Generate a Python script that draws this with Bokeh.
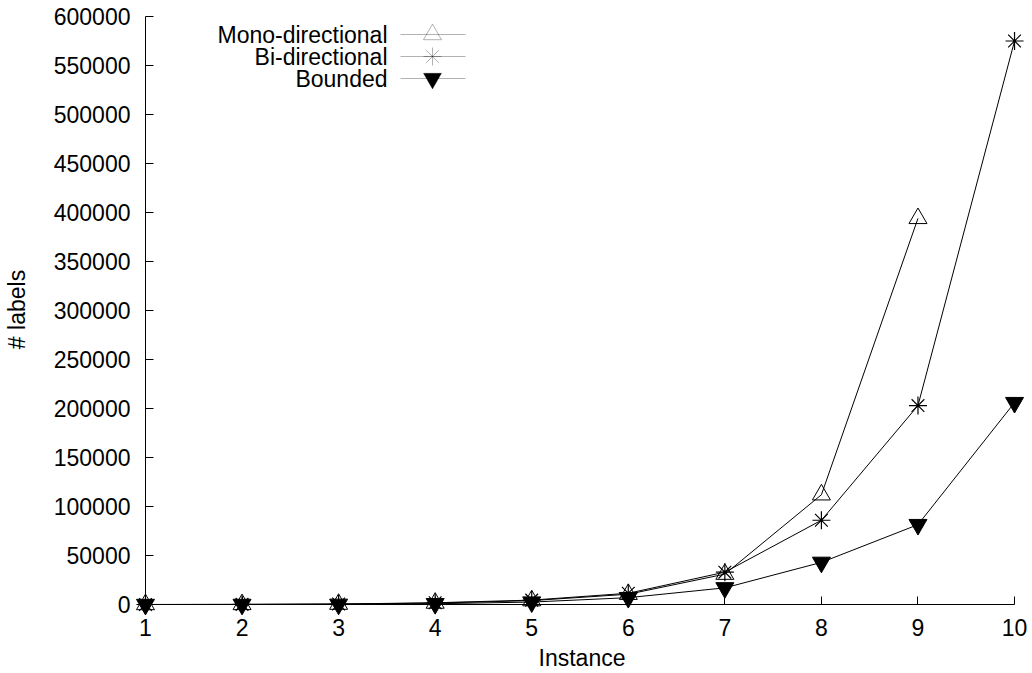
from bokeh.plotting import figure
from bokeh.models import (LinearAxis, FixedTicker, Range1d, Label, PolyAnnotation,
                          BasicTickFormatter, CustomJSTickFormatter, Grid)
from bokeh.embed import file_html
from bokeh.resources import INLINE

# ---- data ----
instances = [1, 2, 3, 4, 5, 6, 7, 8, 9, 10]
mono_x = [1, 2, 3, 4, 5, 6, 7, 8, 9]
mono = [20, 100, 400, 1500, 4000, 10500, 31000, 112000, 394000]
bi = [30, 150, 500, 1800, 4500, 11500, 33000, 86000, 203000, 575000]
bounded = [10, 50, 200, 800, 2500, 7000, 17000, 43000, 81500, 206000]
series_names = ["Mono-directional", "Bi-directional", "Bounded"]
x_ticks = [1, 2, 3, 4, 5, 6, 7, 8, 9, 10]
y_ticks = [0, 50000, 100000, 150000, 200000, 250000, 300000, 350000,
           400000, 450000, 500000, 550000, 600000]

FONT = "Liberation Sans"
FS = "23px"

W, H = 1032, 673
p = figure(width=W, height=H, output_backend="svg", toolbar_location=None,
           x_range=Range1d(0.85534, 10.186), y_range=Range1d(-14261, 616299),
           x_axis_location=None, y_axis_location=None,
           min_border_left=129, min_border_right=0, min_border_top=0,
           min_border_bottom=54, outline_line_color=None,
           background_fill_color="white", border_fill_color="white")
p.center = [r for r in p.center if not isinstance(r, Grid)]


def text_style(ax):
    ax.major_label_text_font = FONT
    ax.major_label_text_font_size = FS
    ax.major_label_text_color = "black"
    ax.axis_label_text_font = FONT
    ax.axis_label_text_font_size = FS
    ax.axis_label_text_font_style = "normal"
    ax.axis_label_text_color = "black"


def no_ticks(ax):
    ax.major_tick_in = 0
    ax.major_tick_out = 0
    ax.minor_tick_in = 0
    ax.minor_tick_out = 0


# edge axes: carry only the texts
ylab = LinearAxis(ticker=FixedTicker(ticks=y_ticks),
                  formatter=BasicTickFormatter(use_scientific=False),
                  axis_label="# labels", axis_line_color=None,
                  major_tick_line_color=None)
no_ticks(ylab)
text_style(ylab)
ylab.major_label_standoff = 1
ylab.axis_label_standoff = 21
p.add_layout(ylab, "left")

xlab = LinearAxis(ticker=FixedTicker(ticks=x_ticks), axis_label="Instance",
                  axis_line_color=None, major_tick_line_color=None)
no_ticks(xlab)
text_style(xlab)
xlab.major_label_standoff = 0
xlab.axis_label_standoff = 6
p.add_layout(xlab, "below")

# axis lines + inward ticks at x=1 and y=0
blank = CustomJSTickFormatter(code="return ''")
for loc, bnds, ticks, side in [(1, (0, 600000), y_ticks, "left"),
                               (0, (1, 10), x_ticks, "below")]:
    ax = LinearAxis(fixed_location=loc, bounds=bnds,
                    ticker=FixedTicker(ticks=ticks), formatter=blank,
                    axis_line_color="black", axis_line_width=1,
                    major_tick_line_color="black", major_tick_in=8,
                    major_tick_out=0, minor_tick_in=0, minor_tick_out=0,
                    major_label_text_font_size="1px")
    p.add_layout(ax, side)

# ---- series ----
p.line(mono_x, mono, line_color="black", line_width=1)
p.line(instances, bi, line_color="black", line_width=1)
p.line(instances, bounded, line_color="black", line_width=1)
p.scatter(mono_x, mono, marker="triangle", size=18, fill_color=None,
          line_color="black", line_width=1)
p.scatter(instances, bi, marker="asterisk", size=18,
          line_color="black", line_width=1.2)
p.scatter(instances, bounded, marker="inverted_triangle", size=18,
          fill_color="black", line_color="black", line_width=1)

# ---- legend (text right, sample line + marker on the right) ----
lx_text = 256
lx0, lx1, lmx = 269, 334, 301
ly = [584, 562, 540]
for name, yy in zip(series_names, ly):
    p.add_layout(Label(x=lx_text, y=yy, x_units="screen", y_units="screen",
                       text=name, text_align="right", text_baseline="middle",
                       text_font=FONT, text_font_size=FS, text_color="black"))
    p.add_layout(PolyAnnotation(xs=[lx0, lx1], ys=[yy, yy], xs_units="screen",
                                ys_units="screen", line_color="black",
                                line_width=1, fill_alpha=0))

r = 9
h = r * 3 ** 0.5
a = h / 3
# up triangle (open)
p.add_layout(PolyAnnotation(xs=[lmx - r, lmx + r, lmx],
                            ys=[ly[0] - a, ly[0] - a, ly[0] - a + h],
                            xs_units="screen", ys_units="screen",
                            line_color="black", line_width=1, fill_alpha=0))
# asterisk
d = r * 0.7071
for (dx, dy) in [(r, 0), (0, r), (d, d), (d, -d)]:
    p.add_layout(PolyAnnotation(xs=[lmx - dx, lmx + dx], ys=[ly[1] - dy, ly[1] + dy],
                                xs_units="screen", ys_units="screen",
                                line_color="black", line_width=1, fill_alpha=0))
# inverted triangle (filled)
p.add_layout(PolyAnnotation(xs=[lmx - r, lmx + r, lmx],
                            ys=[ly[2] + a, ly[2] + a, ly[2] + a - h],
                            xs_units="screen", ys_units="screen",
                            line_color="black", line_width=1,
                            fill_color="black", fill_alpha=1))

open("out.html", "w").write(file_html(p, INLINE))
